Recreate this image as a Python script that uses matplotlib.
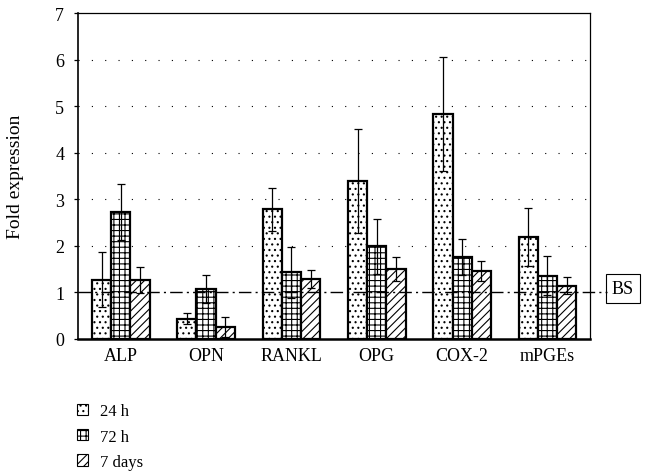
import matplotlib.pyplot as plt
from matplotlib.patches import Patch
import numpy as np

GENES = ["ALP", "OPN", "RANKL", "OPG", "COX-2", "mPGEs"]
SERIES = ["24 h", "72 h", "7 days"]
VAL_24H = [1.27, 0.43, 2.78, 3.40, 4.84, 2.19]
VAL_72H = [2.73, 1.07, 1.43, 1.99, 1.75, 1.35]
VAL_7D = [1.26, 0.25, 1.28, 1.50, 1.46, 1.14]
ERR_24H = [0.60, 0.12, 0.47, 1.12, 1.23, 0.62]
ERR_72H = [0.60, 0.30, 0.55, 0.59, 0.39, 0.42]
ERR_7D = [0.28, 0.22, 0.20, 0.25, 0.22, 0.19]
BASELINE = 1.0

HATCHES = ["...", "+++", "////"]

plt.rcParams["font.family"] = ["Liberation Serif", "DejaVu Serif"]
plt.rcParams["hatch.linewidth"] = 0.8

fig = plt.figure(figsize=(6.45, 4.77), dpi=100)
ax = fig.add_axes([0.121, 0.288, 0.794, 0.682])

x = np.arange(len(GENES)) + 0.5
width = 0.225
values = [VAL_24H, VAL_72H, VAL_7D]
errors = [ERR_24H, ERR_72H, ERR_7D]

for i in range(3):
    pos = x + (i - 1) * width
    ax.bar(pos, values[i], width, facecolor="white", edgecolor="black",
           linewidth=1.6, hatch=HATCHES[i], zorder=3)
    ax.errorbar(pos, values[i], yerr=errors[i], fmt="none", ecolor="black",
                elinewidth=0.9, capsize=3, capthick=0.9, zorder=4)

for y in range(2, 7):
    ax.axhline(y, color="black", linestyle=(0, (1, 11)), linewidth=0.8, zorder=1)

# baseline runs out past the frame to the BS box
ax.plot([0, 6.2], [BASELINE, BASELINE], color="black", linewidth=1.0,
        linestyle=(0, (9, 3, 1.5, 3)), clip_on=False, zorder=5)
ax.text(1.064, BASELINE + 0.08, "BS", transform=ax.get_yaxis_transform(),
        ha="center", va="center", fontsize=13,
        bbox=dict(facecolor="white", edgecolor="black", linewidth=0.8, pad=4))

ax.set_xlim(0, 6)
ax.set_ylim(0, 7)
ax.set_xticks(x)
ax.set_xticklabels(GENES)
ax.set_yticks(range(0, 8))
ax.tick_params(axis="x", length=0, labelsize=13, pad=6)
ax.tick_params(axis="y", length=3, width=0.9, labelsize=13, pad=7)
ax.set_ylabel("Fold expression", fontsize=14, labelpad=14)
ax.yaxis.set_label_coords(-0.105, 0.5)

for side in ["left", "top", "right"]:
    ax.spines[side].set_linewidth(0.9)
ax.spines["left"].set_linewidth(1.2)
ax.spines["bottom"].set_linewidth(1.8)

handles = [Patch(facecolor="white", edgecolor="black", linewidth=0.8,
                 hatch=HATCHES[i], label=SERIES[i]) for i in range(3)]
fig.legend(handles=handles, loc="upper left", bbox_to_anchor=(0.119, 0.152),
           frameon=False, fontsize=12, handlelength=0.66, handleheight=0.66,
           handletextpad=0.72, labelspacing=0.55, borderpad=0, borderaxespad=0)

fig.savefig("out.png", dpi=100)
